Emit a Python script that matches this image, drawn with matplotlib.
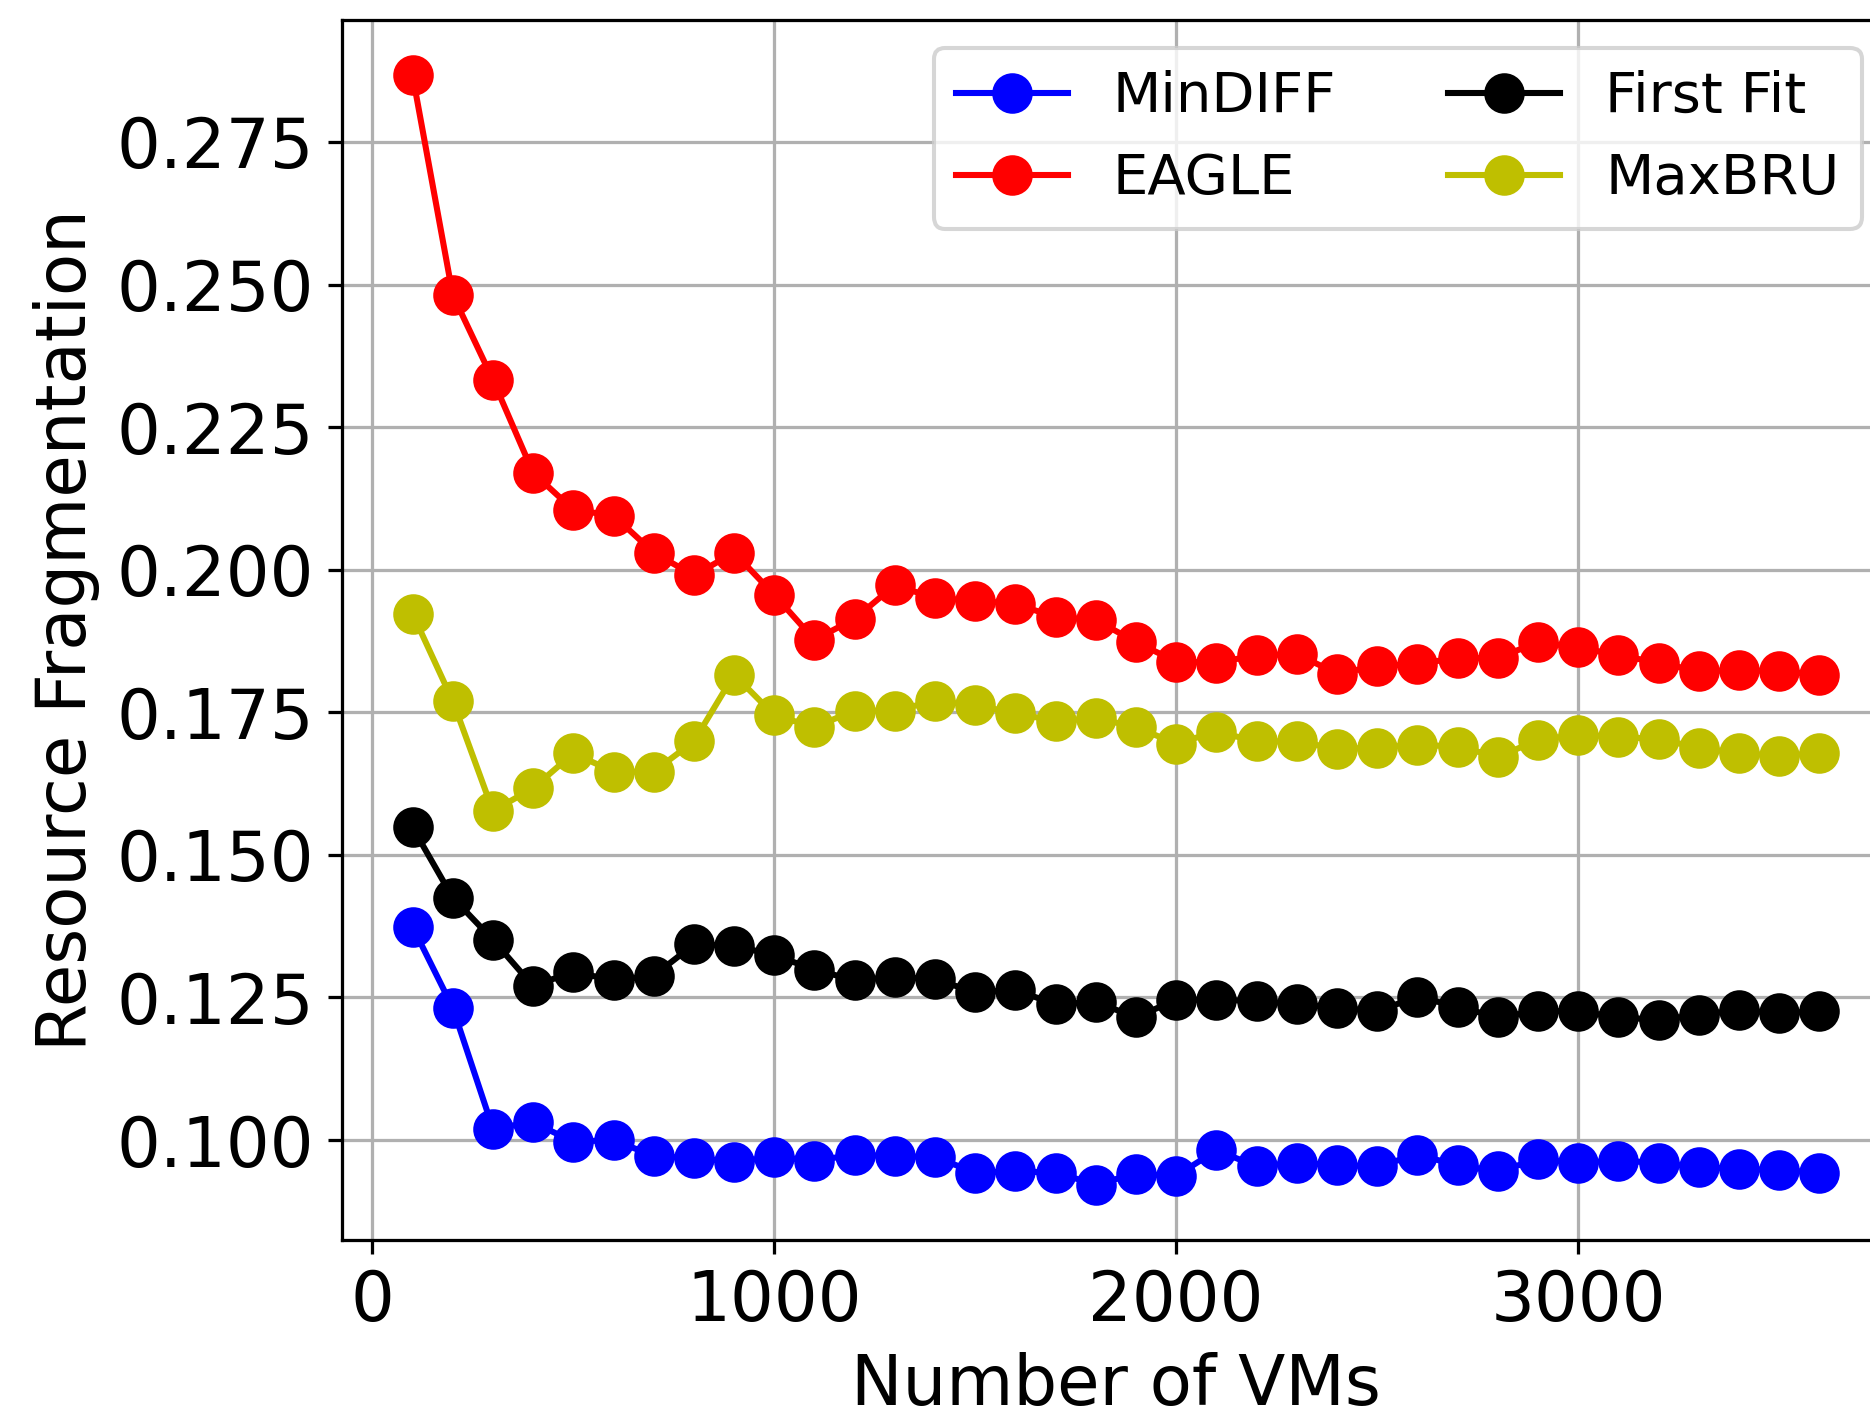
import matplotlib
matplotlib.use('Agg')
import matplotlib.pyplot as plt

# number of VMs
vms = [100, 200, 300, 400, 500, 600, 700, 800, 900, 1000, 1100, 1200,
       1300, 1400, 1500, 1600, 1700, 1800, 1900, 2000, 2100, 2200, 2300, 2400,
       2500, 2600, 2700, 2800, 2900, 3000, 3100, 3200, 3300, 3400, 3500, 3600]

mindiff = [0.1374, 0.1232, 0.1020, 0.1031, 0.0997, 0.1000, 0.0972, 0.0968, 0.0962,
           0.0970, 0.0964, 0.0974, 0.0972, 0.0970, 0.0943, 0.0945, 0.0943, 0.0922,
           0.0941, 0.0937, 0.0982, 0.0954, 0.0960, 0.0956, 0.0954, 0.0974, 0.0956,
           0.0945, 0.0966, 0.0960, 0.0964, 0.0960, 0.0952, 0.0950, 0.0947, 0.0943]

eagle = [0.2867, 0.2482, 0.2333, 0.2170, 0.2105, 0.2095, 0.2030, 0.1990, 0.2030,
         0.1956, 0.1877, 0.1914, 0.1973, 0.1950, 0.1946, 0.1940, 0.1917, 0.1912,
         0.1873, 0.1839, 0.1837, 0.1850, 0.1852, 0.1818, 0.1831, 0.1835, 0.1845,
         0.1845, 0.1873, 0.1864, 0.1850, 0.1837, 0.1822, 0.1824, 0.1822, 0.1816]

first_fit = [0.1548, 0.1425, 0.1351, 0.1270, 0.1295, 0.1280, 0.1288, 0.1343, 0.1341,
             0.1324, 0.1299, 0.1280, 0.1286, 0.1282, 0.1259, 0.1263, 0.1238, 0.1242,
             0.1215, 0.1246, 0.1246, 0.1244, 0.1238, 0.1232, 0.1226, 0.1251, 0.1234,
             0.1215, 0.1226, 0.1226, 0.1215, 0.1211, 0.1219, 0.1228, 0.1222, 0.1226]

maxbru = [0.1923, 0.1770, 0.1577, 0.1617, 0.1678, 0.1646, 0.1646, 0.1699, 0.1816,
          0.1745, 0.1724, 0.1753, 0.1753, 0.1770, 0.1762, 0.1749, 0.1734, 0.1740,
          0.1724, 0.1695, 0.1716, 0.1699, 0.1699, 0.1686, 0.1688, 0.1693, 0.1690,
          0.1672, 0.1701, 0.1711, 0.1707, 0.1703, 0.1688, 0.1678, 0.1674, 0.1678]

dpi = 292
fig = plt.figure(figsize=(1870 / dpi, 1415 / dpi), dpi=dpi)
# right edge of the axes runs slightly past the figure (cropped like the original)
ax = fig.add_axes([0.183, 0.1237, 0.8275, 0.8623])

ax.plot(vms, mindiff, 'o-', color='b', markersize=9, label='MinDIFF')
ax.plot(vms, eagle, 'o-', color='r', markersize=9, label='EAGLE')
ax.plot(vms, first_fit, 'o-', color='k', markersize=9, label='First Fit')
ax.plot(vms, maxbru, 'o-', color='y', markersize=9, label='MaxBRU')

ax.set_xticks([0, 1000, 2000, 3000])
ax.set_yticks([0.100, 0.125, 0.150, 0.175, 0.200, 0.225, 0.250, 0.275])
ax.tick_params(labelsize=17)
ax.grid(True)

ax.set_xlabel('Number of VMs', fontsize=17, labelpad=4)
ax.set_ylabel('Resource Fragmentation', fontsize=17)

# legend order: MinDIFF, EAGLE in first column, First Fit, MaxBRU in second
ax.legend(fontsize=13.8, ncol=2, loc='upper right')

plt.savefig('out.png', dpi=dpi)
